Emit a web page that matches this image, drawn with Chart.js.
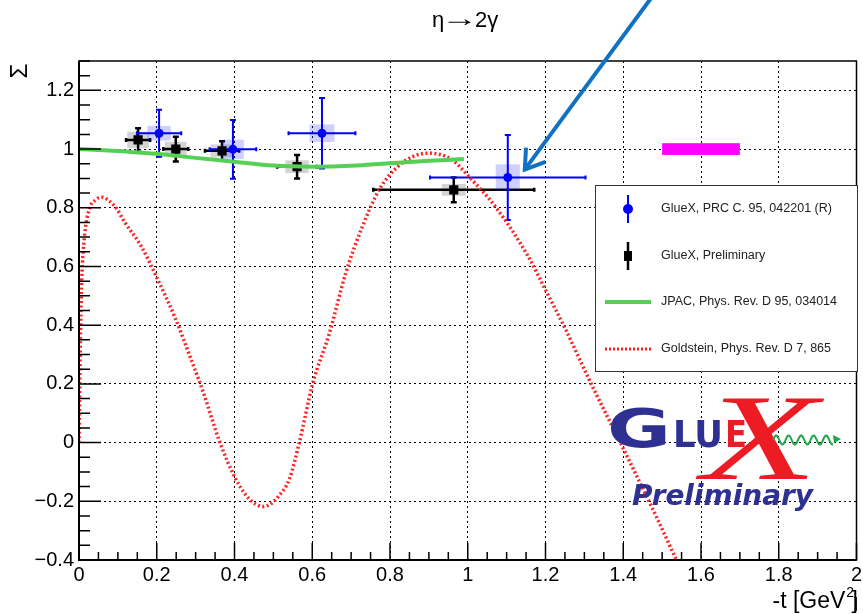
<!DOCTYPE html>
<html>
<head>
<meta charset="utf-8">
<title>eta to 2 gamma beam asymmetry</title>
<script src="https://cdn.jsdelivr.net/npm/chart.js@4.4.1/dist/chart.umd.min.js"></script>
<style>
  body { margin: 0; background: #fff; }
  canvas { display: block; }
</style>
</head>
<body>
<canvas id="chart" width="863" height="614"></canvas>
<script>
// axis ticks
const xTicks = [0, 0.2, 0.4, 0.6, 0.8, 1, 1.2, 1.4, 1.6, 1.8, 2];
const xTickLabels = ['0', '0.2', '0.4', '0.6', '0.8', '1', '1.2', '1.4', '1.6', '1.8', '2'];
const yTicks = [-0.4, -0.2, 0, 0.2, 0.4, 0.6, 0.8, 1, 1.2];
const yTickLabels = ['\u22120.4', '\u22120.2', '0', '0.2', '0.4', '0.6', '0.8', '1', '1.2'];

// GlueX, PRC 95, 042201 (R)
const prcT = [0.206, 0.396, 0.625, 1.103];
const prcSigma = [1.054, 0.999, 1.054, 0.903];
const prcErrT = [0.057, 0.06, 0.086, 0.2];
const prcErrSigma = [0.08, 0.1, 0.12, 0.145];
const prcSysT = [0.03, 0.028, 0.032, 0.031];
const prcSysSigma = [0.025, 0.033, 0.03, 0.045];

// GlueX preliminary
const prelimT = [0.152, 0.249, 0.368, 0.561, 0.964];
const prelimSigma = [1.031, 1.0, 0.994, 0.94, 0.861];
const prelimErrT = [0.031, 0.032, 0.044, 0.051, 0.207];
const prelimErrSigma = [0.04, 0.042, 0.033, 0.04, 0.042];
const prelimSysT = [0.028, 0.028, 0.03, 0.03, 0.031];
const prelimSysSigma = [0.028, 0.025, 0.022, 0.022, 0.02];

// JPAC model
const jpacT = [0, 0.05, 0.1, 0.2, 0.3, 0.4, 0.5, 0.6, 0.7, 0.8, 0.9, 0.99];
const jpacSigma = [1.0, 0.997, 0.993, 0.984, 0.97, 0.957, 0.944, 0.94, 0.943, 0.952, 0.96, 0.966];

// Goldstein model
const goldT = [0, 0.003, 0.007, 0.014, 0.028, 0.042, 0.058, 0.075, 0.095, 0.118, 0.161, 0.199, 0.246, 0.289, 0.32,
  0.362, 0.4, 0.43, 0.455, 0.473, 0.492, 0.515, 0.541, 0.567, 0.601, 0.644, 0.686, 0.729, 0.772, 0.815, 0.86,
  0.9, 0.96, 1.003, 1.071, 1.156, 1.2, 1.25, 1.319, 1.4, 1.485, 1.537, 1.56];
const goldSigma = [0, 0.3, 0.55, 0.7, 0.8, 0.826, 0.836, 0.826, 0.8, 0.75, 0.667, 0.565, 0.429, 0.281, 0.17,
  0.002, -0.116, -0.18, -0.21, -0.218, -0.21, -0.18, -0.125, 0.002, 0.2, 0.372, 0.577, 0.736, 0.861, 0.934, 0.975,
  0.986, 0.963, 0.906, 0.804, 0.633, 0.52, 0.39, 0.196, -0.02, -0.252, -0.4, -0.46];

// beam polarisation uncertainty band
const polBandT = [1.5, 1.7];
const polBandSigma = [0.98, 1.02];

const FONT = '"Liberation Sans", Arial, sans-serif';

const toXY = (ts, vs) => ts.map((t, i) => ({ x: t, y: vs[i] }));

function drawPoints(ctx, x, y, ts, vs, et, ev, st, sv, color, boxColor, lw) {
  ctx.fillStyle = boxColor;
  ts.forEach((t, i) => {
    const x0 = x.getPixelForValue(t - st[i]), x1 = x.getPixelForValue(t + st[i]);
    const y0 = y.getPixelForValue(vs[i] + sv[i]), y1 = y.getPixelForValue(vs[i] - sv[i]);
    ctx.fillRect(x0, y0, x1 - x0, y1 - y0);
  });
  ctx.strokeStyle = color;
  ctx.lineWidth = lw;
  ts.forEach((t, i) => {
    const px = x.getPixelForValue(t), py = y.getPixelForValue(vs[i]);
    const xl = x.getPixelForValue(t - et[i]), xr = x.getPixelForValue(t + et[i]);
    const yt = y.getPixelForValue(vs[i] + ev[i]), yb = y.getPixelForValue(vs[i] - ev[i]);
    ctx.beginPath();
    ctx.moveTo(xl, py); ctx.lineTo(xr, py);
    ctx.moveTo(px, yt); ctx.lineTo(px, yb);
    // end caps
    ctx.moveTo(xl, py - 2); ctx.lineTo(xl, py + 2);
    ctx.moveTo(xr, py - 2); ctx.lineTo(xr, py + 2);
    ctx.moveTo(px - 3, yt); ctx.lineTo(px + 3, yt);
    ctx.moveTo(px - 3, yb); ctx.lineTo(px + 3, yb);
    ctx.stroke();
  });
}

const errorBars = {
  id: 'errorBars',
  beforeDatasetsDraw(chart) {
    const { ctx, chartArea: a, scales: { x, y } } = chart;
    ctx.save();
    ctx.beginPath();
    ctx.rect(a.left, a.top, a.width, a.height);
    ctx.clip();
    const bx0 = x.getPixelForValue(polBandT[0]), bx1 = x.getPixelForValue(polBandT[1]);
    const by0 = y.getPixelForValue(polBandSigma[1]), by1 = y.getPixelForValue(polBandSigma[0]);
    ctx.fillStyle = '#ff00ff';
    ctx.fillRect(bx0, by0, bx1 - bx0, by1 - by0);
    drawPoints(ctx, x, y, prelimT, prelimSigma, prelimErrT, prelimErrSigma, prelimSysT, prelimSysSigma,
      '#000', 'rgba(0,0,0,0.17)', 2.5);
    drawPoints(ctx, x, y, prcT, prcSigma, prcErrT, prcErrSigma, prcSysT, prcSysSigma,
      '#0000ff', 'rgba(40,40,255,0.22)', 2);
    ctx.restore();
  }
};

function drawLegend(ctx) {
  const L = 595, T = 185, R = 858, B = 372;
  ctx.fillStyle = '#fff';
  ctx.fillRect(L, T, R - L, B - T);
  ctx.strokeStyle = '#333';
  ctx.lineWidth = 1;
  ctx.strokeRect(L + 0.5, T + 0.5, R - L - 1, B - T - 1);
  const sx = 628, tx = 661;
  const rows = [209, 256, 302, 349];
  // blue circle with bar
  ctx.strokeStyle = '#0000ff'; ctx.lineWidth = 2;
  ctx.beginPath(); ctx.moveTo(sx, 195); ctx.lineTo(sx, 223); ctx.stroke();
  ctx.fillStyle = '#0000ff';
  ctx.beginPath(); ctx.arc(sx, rows[0], 5, 0, Math.PI * 2); ctx.fill();
  // black square with bar
  ctx.strokeStyle = '#000'; ctx.lineWidth = 2.5;
  ctx.beginPath(); ctx.moveTo(sx, 242); ctx.lineTo(sx, 270); ctx.stroke();
  ctx.fillStyle = '#000';
  ctx.fillRect(sx - 4, rows[1] - 5, 8, 10);
  // green line
  ctx.strokeStyle = '#55d055'; ctx.lineWidth = 4;
  ctx.beginPath(); ctx.moveTo(605, rows[2]); ctx.lineTo(651, rows[2]); ctx.stroke();
  // red dotted line
  ctx.strokeStyle = '#ff2020'; ctx.lineWidth = 3; ctx.setLineDash([2, 2]);
  ctx.beginPath(); ctx.moveTo(605, rows[3]); ctx.lineTo(651, rows[3]); ctx.stroke();
  ctx.setLineDash([]);
  ctx.fillStyle = '#222';
  ctx.font = '12.5px ' + FONT;
  ctx.textBaseline = 'middle';
  ctx.textAlign = 'left';
  ctx.fillText('GlueX, PRC C. 95, 042201 (R)', tx, rows[0]);
  ctx.fillText('GlueX, Preliminary', tx, rows[1]);
  ctx.fillText('JPAC, Phys. Rev. D 95, 034014', tx, rows[2]);
  ctx.fillText('Goldstein, Phys. Rev. D 7, 865', tx, rows[3]);
}

function fitText(ctx, text, left, base, width) {
  const w = ctx.measureText(text).width;
  ctx.save();
  ctx.translate(left, base);
  ctx.scale(width / w, 1);
  ctx.fillText(text, 0, 0);
  ctx.restore();
}

function drawLogo(ctx) {
  ctx.textAlign = 'left';
  ctx.textBaseline = 'alphabetic';
  ctx.fillStyle = '#2e3192';
  ctx.font = 'bold 53px "DejaVu Sans"';
  fitText(ctx, 'G', 607, 447, 64);
  ctx.font = 'bold 37px "DejaVu Sans"';
  fitText(ctx, 'LU', 673, 447, 50);
  ctx.fillStyle = '#ed1c24';
  fitText(ctx, 'E', 725, 447, 22);
  ctx.font = 'italic 122px "Liberation Serif"';
  fitText(ctx, 'X', 702, 479, 116);
  // green photon wave
  ctx.strokeStyle = '#1fa64a';
  ctx.lineWidth = 2;
  ctx.beginPath();
  for (let i = 0; i <= 60; i++) {
    const px = 773 + i;
    const py = 440 - 4.5 * Math.sin((i / 12.5) * Math.PI * 2);
    if (i === 0) ctx.moveTo(px, py); else ctx.lineTo(px, py);
  }
  ctx.stroke();
  ctx.fillStyle = '#1fa64a';
  ctx.beginPath();
  ctx.moveTo(841, 439); ctx.lineTo(833, 435); ctx.lineTo(834, 443); ctx.closePath(); ctx.fill();
  ctx.fillStyle = '#2e3192';
  ctx.font = 'italic bold 29px "DejaVu Sans"';
  fitText(ctx, 'Preliminary', 632, 505, 181);
}

function drawArrow(ctx, x, y) {
  // pointer to the highest -t PRC point
  const tipX = x.getPixelForValue(prcT[3]) + 17;
  const tipY = y.getPixelForValue(prcSigma[3]) - 8;
  const tailX = tipX + 126, tailY = tipY - 171;
  const ang = Math.atan2(tailY - tipY, tailX - tipX);
  const len = 22, spread = 0.58;
  ctx.strokeStyle = '#1172c2';
  ctx.lineWidth = 4;
  ctx.lineCap = 'butt';
  ctx.lineJoin = 'miter';
  ctx.beginPath();
  ctx.moveTo(tailX, tailY); ctx.lineTo(tipX + 2 * Math.cos(ang), tipY + 2 * Math.sin(ang));
  ctx.stroke();
  ctx.beginPath();
  ctx.moveTo(tipX + len * Math.cos(ang - spread), tipY + len * Math.sin(ang - spread));
  ctx.lineTo(tipX, tipY);
  ctx.lineTo(tipX + len * Math.cos(ang + spread), tipY + len * Math.sin(ang + spread));
  ctx.stroke();
}

const frame = {
  id: 'frame',
  afterDraw(chart) {
    const { ctx, chartArea: a, scales: { x, y } } = chart;
    ctx.save();
    // box
    ctx.strokeStyle = '#000';
    ctx.lineWidth = 1.5;
    ctx.strokeRect(a.left, a.top, a.width, a.height);
    ctx.lineWidth = 2;
    ctx.beginPath();
    ctx.moveTo(a.left, a.top); ctx.lineTo(a.left, a.bottom); ctx.lineTo(a.right, a.bottom);
    ctx.stroke();
    // inward ticks, 4 minor divisions per major
    ctx.lineWidth = 1.5;
    ctx.beginPath();
    for (let k = 0; k <= 40; k++) {
      const px = x.getPixelForValue(k * 0.05);
      ctx.moveTo(px, a.bottom);
      ctx.lineTo(px, a.bottom - (k % 4 === 0 ? 17 : 8));
    }
    for (let k = 0; k <= 34; k++) {
      const py = y.getPixelForValue(-0.4 + k * 0.05);
      ctx.moveTo(a.left, py);
      ctx.lineTo(a.left + (k % 4 === 0 ? 22 : 11), py);
    }
    ctx.stroke();

    drawLegend(ctx);
    drawLogo(ctx);

    // title: eta -> 2 gamma
    ctx.fillStyle = '#000';
    ctx.textBaseline = 'alphabetic';
    ctx.textAlign = 'left';
    ctx.font = '22px ' + FONT;
    ctx.fillText('\u03b7', 432, 27);
    ctx.fillText('2\u03b3', 475, 27);
    ctx.font = '24px ' + FONT;
    fitText(ctx, '\u2192', 441, 26, 37);

    ctx.textAlign = 'right';
    ctx.font = '14px ' + FONT;
    ctx.fillText(']', 858, 608);
    const bw = ctx.measureText(']').width;
    ctx.fillText('2', 858 - bw, 597);
    const sw = ctx.measureText('2').width;
    ctx.font = '23px ' + FONT;
    ctx.fillText(']', 858, 608);
    ctx.fillText('-t [GeV', 858 - bw - sw - 1, 608);

    ctx.save();
    ctx.translate(27, 71);
    ctx.rotate(-Math.PI / 2);
    ctx.textAlign = 'center';
    ctx.font = '24px ' + FONT;
    ctx.fillText('\u03a3', 0, 0);
    ctx.restore();

    drawArrow(ctx, x, y);
    ctx.restore();
  }
};

const ctx = document.getElementById('chart');

new Chart(ctx, {
  type: 'scatter',
  data: {
    datasets: [
      {
        label: 'JPAC, Phys. Rev. D 95, 034014',
        data: toXY(jpacT, jpacSigma),
        showLine: true,
        borderColor: '#55d055',
        borderWidth: 4,
        pointRadius: 0,
        tension: 0.4
      },
      {
        label: 'GlueX, Preliminary',
        data: toXY(prelimT, prelimSigma),
        pointStyle: 'rect',
        pointRadius: 6.5,
        backgroundColor: '#000',
        borderColor: '#000',
        borderWidth: 0
      },
      {
        label: 'GlueX, PRC C. 95, 042201 (R)',
        data: toXY(prcT, prcSigma),
        pointStyle: 'circle',
        pointRadius: 4.5,
        backgroundColor: '#0000ff',
        borderColor: '#0000ff',
        borderWidth: 0
      },
      {
        label: 'Goldstein, Phys. Rev. D 7, 865',
        data: toXY(goldT, goldSigma),
        showLine: true,
        borderColor: '#ff2020',
        borderWidth: 3.5,
        borderDash: [2, 2.5],
        pointRadius: 0,
        cubicInterpolationMode: 'monotone'
      }
    ]
  },
  options: {
    responsive: false,
    animation: false,
    events: [],
    layout: { padding: { top: 61, right: 4, left: 0, bottom: 0 } },
    plugins: {
      legend: { display: false },
      title: { display: false },
      tooltip: { enabled: false }
    },
    scales: {
      x: {
        type: 'linear',
        min: 0,
        max: 2,
        afterBuildTicks: s => { s.ticks = xTicks.map(v => ({ value: v })); },
        afterFit: s => { s.height = 54; s.paddingLeft = 0; s.paddingRight = 0; },
        ticks: {
          callback: (v, i) => xTickLabels[i],
          color: '#000',
          font: { family: FONT, size: 20 },
          padding: 3,
          maxRotation: 0,
          autoSkip: false
        },
        grid: { color: '#000', lineWidth: 1, drawTicks: false },
        border: { display: false, dash: [2, 3] }
      },
      y: {
        type: 'linear',
        min: -0.4,
        max: 1.3,
        afterBuildTicks: s => { s.ticks = yTicks.map(v => ({ value: v })); },
        afterFit: s => { s.width = 79; s.paddingTop = 0; s.paddingBottom = 0; },
        ticks: {
          callback: (v, i) => yTickLabels[i],
          color: '#000',
          font: { family: FONT, size: 20 },
          padding: 5,
          autoSkip: false
        },
        grid: { color: '#000', lineWidth: 1, drawTicks: false },
        border: { display: false, dash: [2, 3] }
      }
    }
  },
  plugins: [errorBars, frame]
});
</script>
</body>
</html>
